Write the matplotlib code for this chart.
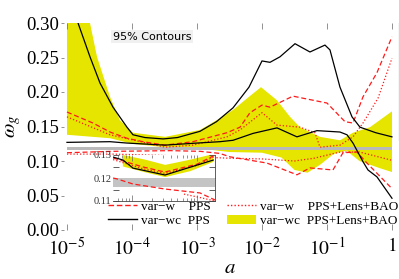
import numpy as np
import matplotlib
matplotlib.use('Agg')
import matplotlib.pyplot as plt
from matplotlib.lines import Line2D
from matplotlib.patches import Patch
from matplotlib.ticker import LogLocator, NullFormatter, FixedLocator, FuncFormatter

plt.rcParams['font.family'] = ['Liberation Serif', 'DejaVu Serif']
plt.rcParams['mathtext.fontset'] = 'stix'

# ---------------- data (log10 a, omega_g) ----------------
# var-wc PPS : 95% upper contour (black)
wcU_loga = [-5.0, -4.83, -4.646, -4.492, -4.292, -4.077, -3.985, -3.8, -3.52, -3.3, -2.954, -2.7,
            -2.446, -2.2, -2.0, -1.877, -1.723, -1.492, -1.262, -1.031, -0.954, -0.8, -0.615, -0.492, -0.25, 0.0]
wcU_w = [0.340, 0.300, 0.251, 0.213, 0.178, 0.149, 0.138, 0.134, 0.132, 0.134, 0.143, 0.157,
         0.177, 0.207, 0.245, 0.243, 0.251, 0.270, 0.258, 0.268, 0.261, 0.207, 0.164, 0.149, 0.141, 0.135]
# var-wc PPS : 95% lower contour (black)
wcL_loga = [-5.0, -4.338, -4.077, -3.492, -3.0, -2.646, -2.446, -2.138, -2.0, -1.769, -1.462, -1.154,
            -0.8, -0.692, -0.6, -0.446, -0.369, -0.231, 0.0]
wcL_w = [0.127, 0.128, 0.126, 0.123, 0.126, 0.128, 0.130, 0.140, 0.143, 0.148, 0.135, 0.144,
         0.142, 0.138, 0.126, 0.099, 0.087, 0.077, 0.046]
# var-w PPS (red dashed)
wU_loga = [-5.0, -4.6, -4.338, -4.077, -3.831, -3.492, -3.062, -2.538, -2.338, -2.185, -2.0, -1.877,
           -1.523, -1.369, -1.0, -0.723, -0.6, -0.446, -0.231, 0.0]
wU_w = [0.171, 0.155, 0.142, 0.133, 0.128, 0.123, 0.128, 0.141, 0.149, 0.170, 0.181, 0.178,
        0.194, 0.191, 0.184, 0.157, 0.155, 0.193, 0.228, 0.280]
wL_loga = [-5.0, -4.3, -3.4, -2.95, -2.65, -2.49, -1.923, -1.462, -1.262, -0.908, -0.754, -0.538, -0.385, 0.0]
wL_w = [0.112, 0.114, 0.115, 0.114, 0.111, 0.106, 0.097, 0.080, 0.090, 0.087, 0.112, 0.113, 0.097, 0.060]
# var-w PPS+Lens+BAO (red dotted)
lU_loga = [-5.0, -4.338, -3.492, -3.062, -2.538, -2.338, -2.0, -1.769, -1.415, -1.185, -1.108, -0.8,
           -0.6, -0.446, -0.215, 0.0]
lU_w = [0.164, 0.138, 0.120, 0.123, 0.135, 0.145, 0.170, 0.152, 0.149, 0.141, 0.120, 0.123,
        0.135, 0.155, 0.191, 0.249]
lL_loga = [-5.0, -4.3, -3.5, -3.0, -2.5, -2.0, -1.5, -1.2, -0.8, -0.5, 0.0]
lL_w = [0.110, 0.110, 0.108, 0.106, 0.104, 0.103, 0.100, 0.104, 0.113, 0.113, 0.101]
# var-wc PPS+Lens+BAO (yellow band)
yU_loga = [-5.0, -4.646, -4.538, -4.338, -4.185, -3.985, -3.49, -2.954, -2.7, -2.446, -2.2, -2.015,
           -1.769, -1.569, -1.415, -1.108, -0.8, -0.6, -0.338, 0.0]
yU_w = [0.340, 0.300, 0.251, 0.193, 0.159, 0.141, 0.135, 0.145, 0.159, 0.174, 0.193, 0.207,
        0.188, 0.164, 0.149, 0.135, 0.130, 0.141, 0.149, 0.172]
yL_loga = [-5.0, -4.338, -4.0, -3.5, -2.95, -2.5, -2.0, -1.7, -1.5, -1.3, -1.1, -0.9, -0.7, -0.5, -0.2, 0.0]
yL_w = [0.138, 0.133, 0.125, 0.120, 0.118, 0.113, 0.112, 0.105, 0.087, 0.083, 0.095, 0.110, 0.115,
        0.100, 0.090, 0.084]
# fiducial band (gray), spanning the plotted range of a
fid_loga = [-5.0, 0.0]
fid_lo, fid_hi = 0.116, 0.120

# inset curves
in_wc_loga = [-4.29, -4.138, -3.985, -3.492, -2.75]
in_wc_w = [0.1291, 0.1278, 0.1243, 0.1213, 0.1278]
in_y_loga = [-4.14, -3.8, -3.49, -3.1, -2.75]
in_yU_w = [0.1300, 0.1280, 0.1257, 0.1280, 0.1304]
in_yL_w = [0.1250, 0.1225, 0.1204, 0.1230, 0.1270]
in_wU_loga = [-4.29, -3.831, -3.492, -3.0, -2.72]
in_wU_w = [0.1287, 0.1248, 0.1226, 0.1260, 0.1300]
in_lU_w = [0.1280, 0.1240, 0.1220, 0.1255, 0.1295]
in_wL_loga = [-4.29, -4.23, -3.985, -3.492, -2.954, -2.72]
in_wL_w = [0.1200, 0.1196, 0.1174, 0.1152, 0.1135, 0.1104]
in_lL_loga = [-3.2, -2.954, -2.72]
in_lL_w = [0.1130, 0.1115, 0.1100]

yticks = [0.00, 0.05, 0.10, 0.15, 0.20, 0.25, 0.30]
xticks_exp = [-5, -4, -3, -2, -1, 0]

def A(v):
    return 10.0 ** np.asarray(v)

YEL = '#e5e500'
GRAY = '#b9b9b9'
RED = '#ff1a1a'

fig = plt.figure(figsize=(3.99, 2.79), dpi=100)
ax = fig.add_axes([61/399, 49/279, 338/399, 207/279])
ax.set_xscale('log')
ax.set_xlim(10 ** -5.092, 10 ** 0.108)
ax.set_ylim(0, 0.30)

ax.fill(np.r_[A(yU_loga), A(yL_loga)[::-1]], np.r_[yU_w, yL_w[::-1]], color=YEL, lw=0, zorder=1)
ax.fill_between(A(fid_loga), fid_lo, fid_hi, color=GRAY, lw=0, zorder=2)
dash = (0, (4, 2.2))
dot = (0, (1, 1.6))
ax.plot(A(wU_loga), wU_w, color=RED, lw=0.9, ls=dash, zorder=3)
ax.plot(A(wL_loga), wL_w, color=RED, lw=0.9, ls=dash, zorder=3)
ax.plot(A(lU_loga), lU_w, color=RED, lw=0.9, ls=dot, zorder=3)
ax.plot(A(lL_loga), lL_w, color=RED, lw=0.9, ls=dot, zorder=3)
ax.plot(A(wcU_loga), wcU_w, color='black', lw=0.9, zorder=4)
ax.plot(A(wcL_loga), wcL_w, color='black', lw=0.9, zorder=4)

for s in ['left', 'top', 'bottom']:
    ax.spines[s].set_visible(False)
ax.spines['right'].set_bounds(0.13, 0.30)
ax.spines['right'].set_linewidth(0.8)
ax.spines['right'].set_color('#555555')

ax.set_xticks(A(xticks_exp))
ax.xaxis.set_major_formatter(FuncFormatter(lambda v, p: '$1$' if abs(v - 1) < 1e-9 else r'$10^{%d}$' % round(np.log10(v))))
ax.xaxis.set_minor_locator(LogLocator(base=10, subs=np.arange(2, 10)))
ax.xaxis.set_minor_formatter(NullFormatter())
ax.set_yticks(yticks)
ax.yaxis.set_major_formatter(FuncFormatter(lambda v, p: '%.2f' % v))
ax.tick_params(axis='x', which='both', direction='in', top=True, bottom=True, labelsize=14, pad=5,
               color='#666666', width=0.5)
ax.tick_params(axis='x', which='major', length=4)
ax.tick_params(axis='x', which='minor', length=2.5)
ax.tick_params(axis='y', which='major', direction='in', length=2, width=0.5, color='#666666',
               labelsize=13.5, pad=1.5, right=False)

ax.set_xlabel('$a$', fontsize=15, labelpad=0)
ax.set_ylabel(r'$\omega_g$', fontsize=15, labelpad=2)

fig.text(152/399, 1 - 36.5/279, '95% Contours', family='DejaVu Sans', fontsize=8, ha='center', va='center',
         bbox=dict(facecolor='#f0f0f0', edgecolor='none', pad=1.2), zorder=10)

# legend
h = [Line2D([], [], color=RED, lw=1.0, ls=(0, (4, 2))),
     Line2D([], [], color='black', lw=1.0),
     Line2D([], [], color=RED, lw=1.0, ls=(0, (1, 1.5))),
     Patch(facecolor=YEL, edgecolor='none')]
lab = ['var\u2212w    PPS', 'var\u2212wc  PPS', 'var\u2212w    PPS+Lens+BAO', 'var\u2212wc  PPS+Lens+BAO']
leg = ax.legend(h, lab, ncol=2, loc='lower left', bbox_to_anchor=(108/399, 52/279),
                bbox_transform=fig.transFigure, frameon=False, fontsize=9.5, handlelength=2.2,
                handletextpad=0.3, labelspacing=0.15, columnspacing=1.2, borderpad=0, borderaxespad=0)
leg.set_zorder(8)

# inset
ins = fig.add_axes([113/399, 78/279, 102/399, 46/279])
ins.set_xscale('log')
ins.set_xlim(10 ** -4.292, 10 ** -2.723)
ins.set_ylim(0.11, 0.13)
ins.fill(np.r_[A(in_y_loga), A(in_y_loga)[::-1]], np.r_[in_yU_w, in_yL_w[::-1]], color=YEL, lw=0, zorder=1)
ins.axhspan(fid_lo, fid_hi, color='#c4c4c4', lw=0, zorder=2)
ins.plot(A(in_wU_loga), in_wU_w, color=RED, lw=0.9, ls=dash, zorder=3)
ins.plot(A(in_wU_loga), in_lU_w, color=RED, lw=0.9, ls=dot, zorder=3)
ins.plot(A(in_wL_loga), in_wL_w, color=RED, lw=0.9, ls=dash, zorder=3)
ins.plot(A(in_lL_loga), in_lL_w, color=RED, lw=0.9, ls=dot, zorder=3)
ins.plot(A(in_wc_loga), in_wc_w, color='black', lw=0.9, zorder=4)
for s in ['left', 'top']:
    ins.spines[s].set_visible(False)
ins.spines['bottom'].set_linewidth(0.6)
ins.spines['right'].set_linewidth(0.6)
ins.spines['bottom'].set_color('#444444')
ins.spines['right'].set_color('#444444')
ins.set_yticks([0.11, 0.12, 0.13])
ins.yaxis.set_minor_locator(FixedLocator([0.115, 0.125]))
ins.yaxis.set_major_formatter(FuncFormatter(lambda v, p: '%.2f' % v))
ins.tick_params(axis='y', which='both', direction='in', length=4, width=0.6, labelsize=7.5, pad=1,
                right=True, color='#444444', labelcolor='#333333')
ins.tick_params(axis='x', which='both', direction='in', top=True, labelbottom=False, width=0.5, color='#666666')
ins.tick_params(axis='x', which='major', length=4)
ins.tick_params(axis='x', which='minor', length=2.5)
ins.xaxis.set_minor_locator(LogLocator(base=10, subs=np.arange(2, 10)))
ins.xaxis.set_minor_formatter(NullFormatter())

fig.savefig('out.png', dpi=100)
